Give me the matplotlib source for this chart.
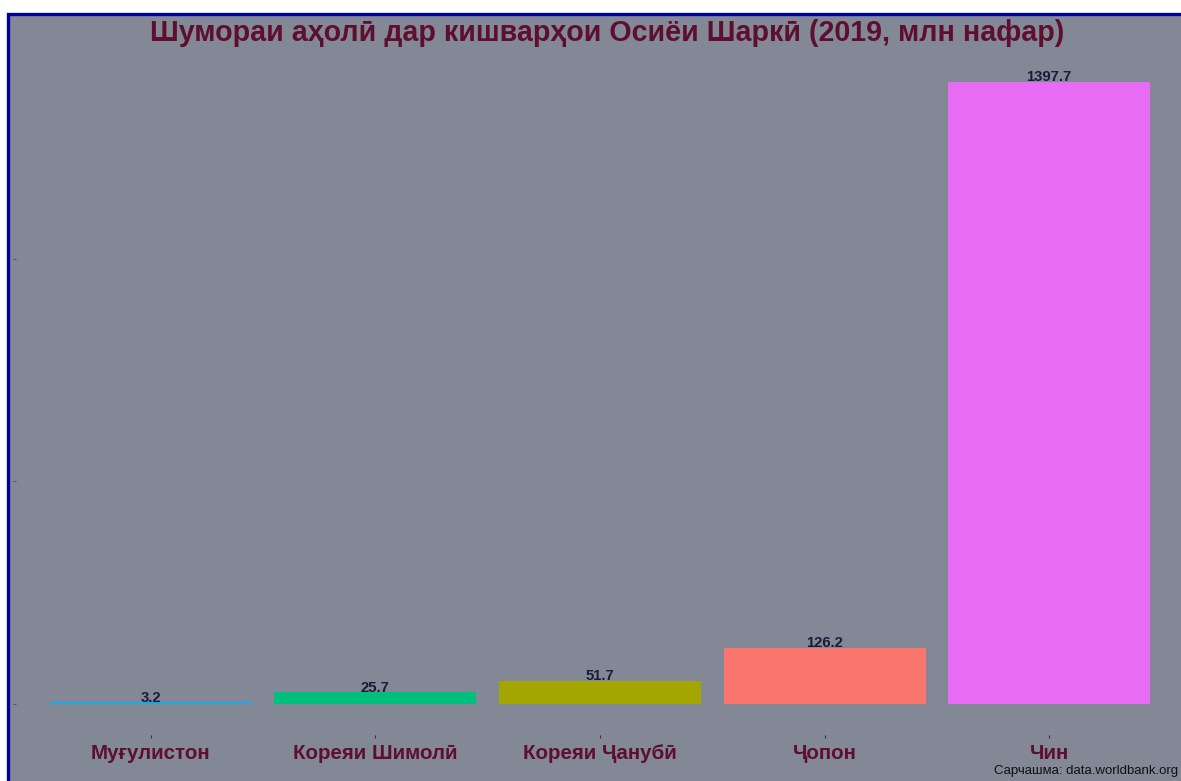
import matplotlib
matplotlib.use("Agg")
import matplotlib.pyplot as plt
from matplotlib.patches import Rectangle

countries = ["Муғулистон", "Кореяи Шимолӣ", "Кореяи Ҷанубӣ", "Ҷопон", "Чин"]
population = [3.2, 25.7, 51.7, 126.2, 1397.7]
bar_colors = ["#1AA8E8", "#00BF7D", "#A3A500", "#F8766D", "#E76BF3"]
title = "Шумораи аҳолӣ дар кишварҳои Осиёи Шаркӣ (2019, млн нафар)"
caption = "Сарчашма: data.worldbank.org"

plt.rcParams['font.family'] = ['Liberation Sans', 'DejaVu Sans']

W, H = 1181, 781
fig = plt.figure(figsize=(W / 100, H / 100), dpi=100, facecolor="white")

bg = "#838896"
panel = Rectangle((7.5 / W, -0.2), 1.3, 1.2 - 13.5 / H, transform=fig.transFigure,
                  facecolor=bg, edgecolor="#00009A", linewidth=2.4, zorder=-10)
fig.patches.append(panel)

ax = fig.add_axes([16 / W, 1 - 735 / H, (1184 - 16) / W, (735 - 51) / H])
ax.set_zorder(5)
ax.set_facecolor("none")
x = list(range(len(countries)))
ax.bar(x, population, width=0.9, color=bar_colors)
ax.set_xlim(-0.6, 4.6)
ax.set_ylim(-1397.7 * 0.05, 1397.7 * 1.05)
for s in ax.spines.values():
    s.set_visible(False)
ax.set_yticks([0, 500, 1000])
ax.set_yticklabels([])
ax.tick_params(axis="y", length=2.5, width=0.8, color="#555566")
ax.set_xticks(x)
ax.set_xticklabels(countries, fontsize=14.8, fontweight="bold", color="#5E0F30")
ax.tick_params(axis="x", length=2.5, width=0.8, color="#333344", pad=4)

for xi, v in zip(x, population):
    ax.annotate(f"{v:.1f}", (xi, v), xytext=(0, 3.5), textcoords="offset points",
                ha="center", va="center", fontsize=10.7, fontweight="bold", color="#1C1A3A")

fig.text(607 / W, 1 - 33 / H, title, ha="center", va="center", fontsize=20.6,
         fontweight="bold", color="#5E0F30", zorder=10)
fig.text(994 / W, 1 - 771 / H, caption, ha="left", va="center", fontsize=9.5,
         color="#111111", zorder=10)

fig.savefig("out.png", dpi=100, facecolor="white")
